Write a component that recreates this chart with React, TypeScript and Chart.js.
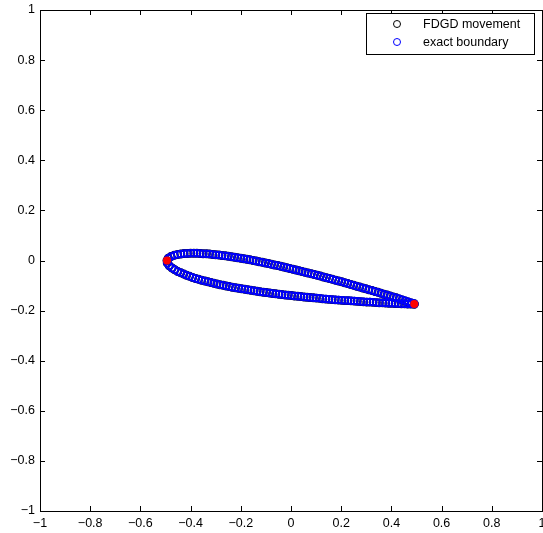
import React, { useEffect, useRef } from 'react';
import { Chart, registerables } from 'chart.js';

Chart.register(...registerables);

const xTicks = [-1, -0.8, -0.6, -0.4, -0.2, 0, 0.2, 0.4, 0.6, 0.8, 1];
const yTicks = [-1, -0.8, -0.6, -0.4, -0.2, 0, 0.2, 0.4, 0.6, 0.8, 1];
const legendLabels = ['FDGD movement', 'exact boundary'];
const seriesColors = ['#000000', '#0000ff'];

const upperX = [-0.494, -0.489, -0.478, -0.465, -0.452, -0.439, -0.426, -0.413, -0.400, -0.387, -0.375, -0.362, -0.350, -0.337, -0.325, -0.312, -0.300, -0.287, -0.275, -0.262, -0.250, -0.237, -0.225, -0.213, -0.200, -0.188, -0.176, -0.164, -0.151, -0.139, -0.127, -0.114, -0.102, -0.090, -0.078, -0.066, -0.053, -0.041, -0.029, -0.017, -0.005, 0.008, 0.020, 0.032, 0.044, 0.056, 0.068, 0.081, 0.093, 0.105, 0.117, 0.129, 0.141, 0.153, 0.165, 0.178, 0.190, 0.202, 0.214, 0.226, 0.238, 0.250, 0.262, 0.274, 0.286, 0.298, 0.310, 0.323, 0.335, 0.347, 0.359, 0.371, 0.383, 0.395, 0.407, 0.419, 0.431, 0.443, 0.455, 0.467, 0.479, 0.491];
const upperY = [0, 0.009, 0.016, 0.021, 0.024, 0.026, 0.028, 0.028, 0.029, 0.029, 0.029, 0.028, 0.027, 0.027, 0.026, 0.024, 0.023, 0.022, 0.020, 0.019, 0.017, 0.015, 0.013, 0.011, 0.009, 0.007, 0.005, 0.003, 0.000, -0.002, -0.005, -0.007, -0.010, -0.012, -0.015, -0.018, -0.020, -0.023, -0.026, -0.029, -0.032, -0.035, -0.038, -0.041, -0.044, -0.047, -0.050, -0.053, -0.056, -0.059, -0.062, -0.066, -0.069, -0.072, -0.075, -0.079, -0.082, -0.085, -0.089, -0.092, -0.096, -0.099, -0.103, -0.106, -0.110, -0.113, -0.117, -0.120, -0.124, -0.127, -0.131, -0.135, -0.138, -0.142, -0.146, -0.149, -0.153, -0.157, -0.161, -0.165, -0.169, -0.172];
const lowerX = [-0.493, -0.485, -0.474, -0.463, -0.451, -0.439, -0.427, -0.416, -0.404, -0.392, -0.380, -0.368, -0.356, -0.343, -0.331, -0.319, -0.307, -0.295, -0.283, -0.270, -0.258, -0.246, -0.234, -0.221, -0.209, -0.197, -0.184, -0.172, -0.160, -0.147, -0.135, -0.123, -0.110, -0.098, -0.085, -0.073, -0.061, -0.048, -0.036, -0.023, -0.011, 0.002, 0.014, 0.027, 0.039, 0.052, 0.064, 0.076, 0.089, 0.101, 0.114, 0.126, 0.139, 0.151, 0.164, 0.176, 0.189, 0.202, 0.214, 0.227, 0.239, 0.252, 0.264, 0.277, 0.289, 0.302, 0.314, 0.327, 0.340, 0.352, 0.365, 0.377, 0.390, 0.402, 0.415, 0.428, 0.440, 0.453, 0.465, 0.478, 0.491];
const lowerY = [-0.010, -0.021, -0.030, -0.037, -0.044, -0.049, -0.054, -0.059, -0.063, -0.068, -0.072, -0.075, -0.079, -0.082, -0.085, -0.088, -0.091, -0.094, -0.097, -0.099, -0.102, -0.104, -0.107, -0.109, -0.111, -0.113, -0.115, -0.117, -0.119, -0.121, -0.123, -0.125, -0.127, -0.128, -0.130, -0.132, -0.133, -0.135, -0.136, -0.138, -0.139, -0.140, -0.142, -0.143, -0.144, -0.146, -0.147, -0.148, -0.149, -0.150, -0.151, -0.153, -0.154, -0.155, -0.156, -0.157, -0.158, -0.159, -0.160, -0.160, -0.161, -0.162, -0.163, -0.164, -0.165, -0.166, -0.166, -0.167, -0.168, -0.169, -0.169, -0.170, -0.171, -0.171, -0.172, -0.172, -0.173, -0.173, -0.174, -0.174, -0.175];
const edgeX = [-0.494, 0.491];
const edgeY = [0, -0.174];

const FONT = "'Liberation Sans', Arial, Helvetica, sans-serif";
const FONT_SIZE = 12.5;

const fmt = (v: number) => {
  const s = Number(Number(v).toFixed(1)).toString();
  return s.replace('-', '\u2212');
};

const boundary = upperX
  .map((x, i) => ({ x, y: upperY[i] }))
  .concat(lowerX.map((x, i) => ({ x, y: lowerY[i] })));

const framePlugin = {
  id: 'matlabFrame',
  afterDraw(chart: any) {
    const { ctx, chartArea: a, scales } = chart;
    ctx.save();
    ctx.strokeStyle = '#000';
    ctx.lineWidth = 1;
    ctx.strokeRect(a.left + 0.5, a.top + 0.5, a.right - a.left, a.bottom - a.top);
    const tl = 5;
    ctx.beginPath();
    xTicks.forEach((v) => {
      const px = Math.round(scales.x.getPixelForValue(v)) + 0.5;
      ctx.moveTo(px, a.bottom);
      ctx.lineTo(px, a.bottom - tl);
      ctx.moveTo(px, a.top);
      ctx.lineTo(px, a.top + tl);
    });
    yTicks.forEach((v) => {
      const py = Math.round(scales.y.getPixelForValue(v)) + 0.5;
      ctx.moveTo(a.left, py);
      ctx.lineTo(a.left + tl, py);
      ctx.moveTo(a.right, py);
      ctx.lineTo(a.right - tl, py);
    });
    ctx.stroke();

    // legend
    const bw = 168;
    const bh = 41;
    const bx = Math.round(a.right - 8 - bw);
    const by = Math.round(a.top + 3);
    ctx.fillStyle = '#fff';
    ctx.fillRect(bx, by, bw, bh);
    ctx.strokeStyle = '#000';
    ctx.strokeRect(bx + 0.5, by + 0.5, bw, bh);
    ctx.font = `${FONT_SIZE}px ${FONT}`;
    ctx.textBaseline = 'middle';
    ctx.textAlign = 'left';
    legendLabels.forEach((lab, i) => {
      const cy = by + 11 + i * 18;
      ctx.beginPath();
      ctx.strokeStyle = seriesColors[i];
      ctx.arc(bx + 31, cy, 3.5, 0, Math.PI * 2);
      ctx.stroke();
      ctx.fillStyle = '#000';
      ctx.fillText(lab, bx + 57, cy + 1);
    });
    ctx.restore();
  },
};

export default function App() {
  const ref = useRef<HTMLCanvasElement | null>(null);
  useEffect(() => {
    if (!ref.current) return;
    const chart = new Chart(ref.current, {
      type: 'scatter',
      data: {
        datasets: [
          {
            label: legendLabels[0],
            data: boundary,
            borderColor: seriesColors[0],
            backgroundColor: 'rgba(0,0,0,0)',
            pointRadius: 3.6,
            pointBorderWidth: 1.7,
            showLine: false,
            order: 2,
          },
          {
            label: legendLabels[1],
            data: boundary,
            borderColor: seriesColors[1],
            backgroundColor: 'rgba(0,0,0,0)',
            pointRadius: 3.5,
            pointBorderWidth: 1.5,
            showLine: false,
            order: 1,
          },
          {
            label: 'edges',
            data: edgeX.map((x, i) => ({ x, y: edgeY[i] })),
            borderColor: '#ff0000',
            backgroundColor: '#ff0000',
            pointRadius: 4,
            pointBorderWidth: 0,
            showLine: false,
            order: 0,
          },
        ],
      },
      options: {
        responsive: false,
        animation: false,
        events: [],
        layout: { autoPadding: false, padding: { top: 10, right: 1, left: 0, bottom: 0 } },
        plugins: { legend: { display: false }, tooltip: { enabled: false } },
        scales: {
          x: {
            type: 'linear',
            min: -1,
            max: 1,
            afterBuildTicks: (s: any) => {
              s.ticks = xTicks.map((v) => ({ value: v }));
            },
            afterFit: (s: any) => {
              s.height = 22;
              s.paddingLeft = 0;
              s.paddingRight = 0;
            },
            grid: { display: false, drawTicks: false },
            border: { display: false },
            ticks: {
              padding: 5,
              autoSkip: false,
              maxRotation: 0,
              color: '#000',
              font: { family: FONT, size: FONT_SIZE },
              callback: (v: any) => fmt(v),
            },
          },
          y: {
            type: 'linear',
            min: -1,
            max: 1,
            afterBuildTicks: (s: any) => {
              s.ticks = yTicks.map((v) => ({ value: v }));
            },
            afterFit: (s: any) => {
              s.width = 40;
              s.paddingTop = 0;
              s.paddingBottom = 0;
            },
            grid: { display: false, drawTicks: false },
            border: { display: false },
            ticks: {
              padding: 5,
              autoSkip: false,
              color: '#000',
              font: { family: FONT, size: FONT_SIZE },
              callback: (v: any) => fmt(v),
            },
          },
        },
      },
      plugins: [framePlugin],
    });
    return () => chart.destroy();
  }, []);
  return (
    <div style={{ position: 'fixed', left: 0, top: 0, width: 543, height: 533 }}>
      <canvas ref={ref} width={543} height={533} style={{ display: 'block' }} />
    </div>
  );
}
